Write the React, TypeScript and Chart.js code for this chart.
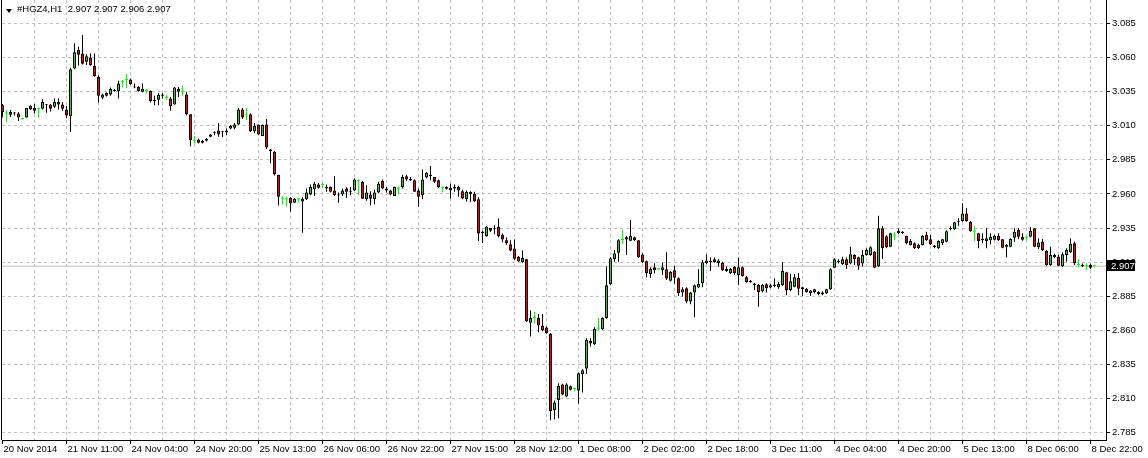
import React, { useEffect, useRef } from 'react';
import { Chart, registerables } from 'chart.js';

Chart.register(...registerables);

const SYMBOL = '#HGZ4,H1';

const opens = [
  3.0250,3.0190,3.0200,3.0195,3.0190,3.0150,3.0160,3.0245,3.0230,3.0225,
  3.0225,3.0255,3.0255,3.0240,3.0255,3.0255,3.0220,3.0170,3.0520,3.0655,
  3.0630,3.0570,3.0600,3.0540,3.0460,3.0305,3.0340,3.0330,3.0355,3.0355,
  3.0420,3.0435,3.0440,3.0385,3.0385,3.0350,3.0355,3.0355,3.0290,3.0290,
  3.0330,3.0305,3.0300,3.0255,3.0370,3.0350,3.0330,3.0185,2.9990,3.0000,
  2.9990,2.9990,3.0020,3.0045,3.0065,3.0058,3.0050,3.0080,3.0085,3.0110,
  3.0220,3.0175,3.0185,3.0060,3.0110,3.0025,3.0110,2.9925,2.9910,2.9740,
  2.9565,2.9560,2.9570,2.9535,2.9560,2.9545,2.9560,2.9595,2.9635,2.9670,
  2.9665,2.9650,2.9650,2.9625,2.9595,2.9595,2.9640,2.9620,2.9625,2.9695,
  2.9690,2.9560,2.9595,2.9560,2.9610,2.9695,2.9640,2.9625,2.9585,2.9640,
  2.9650,2.9730,2.9710,2.9700,2.9625,2.9590,2.9720,2.9740,2.9725,2.9700,
  2.9645,2.9650,2.9625,2.9650,2.9650,2.9620,2.9560,2.9597,2.9600,2.9560,
  2.9323,2.9290,2.9350,2.9348,2.9360,2.9300,2.9260,2.9230,2.9200,2.9140,
  2.9100,2.9120,2.8655,2.8690,2.8690,2.8635,2.8620,2.8575,2.8015,2.8089,
  2.8202,2.8114,2.8190,2.8168,2.8158,2.8277,2.8319,2.8522,2.8497,2.8612,
  2.8607,2.8690,2.8937,2.9123,2.9169,2.9262,2.9282,2.9257,2.9282,2.9260,
  2.9155,2.9106,2.9013,2.9062,2.9047,2.9042,2.9047,2.8964,2.9040,2.8981,
  2.8876,2.8908,2.8810,2.8876,2.8913,2.8944,2.9091,2.9108,2.9120,2.9091,
  2.9096,2.9050,2.9018,2.9064,2.9006,2.9062,2.8988,2.8964,2.8940,2.8932,
  2.8886,2.8937,2.8913,2.8935,2.8915,2.8930,2.9025,2.8896,2.8920,2.8984,
  2.8900,2.8905,2.8871,2.8900,2.8881,2.8876,2.8871,2.8900,2.9059,2.9108,
  2.9086,2.9120,2.9089,2.9152,2.9135,2.9089,2.9152,2.9152,2.9177,2.9067,
  2.9348,2.9289,2.9213,2.9294,2.9311,2.9323,2.9291,2.9225,2.9238,2.9225,
  2.9225,2.9299,2.9267,2.9221,2.9201,2.9238,2.9250,2.9343,2.9340,2.9396,
  2.9401,2.9457,2.9396,2.9323,2.9311,2.9269,2.9255,2.9260,2.9264,2.9291,
  2.9267,2.9225,2.9213,2.9279,2.9335,2.9286,2.9279,2.9286,2.9348,2.9208,
  2.9250,2.9181,2.9079,2.9135,2.9140,2.9069,2.9152,2.9172,2.9238,2.9079,
  2.9079,2.9071,2.9079,2.9070,
];

const highs = [
  3.0260,3.0215,3.0215,3.0200,3.0200,3.0160,3.0230,3.0250,3.0260,3.0230,
  3.0295,3.0260,3.0260,3.0300,3.0300,3.0275,3.0245,3.0525,3.0705,3.0680,
  3.0765,3.0625,3.0630,3.0630,3.0470,3.0335,3.0345,3.0380,3.0370,3.0430,
  3.0435,3.0480,3.0445,3.0410,3.0390,3.0410,3.0370,3.0360,3.0320,3.0340,
  3.0340,3.0330,3.0310,3.0385,3.0385,3.0395,3.0350,3.0185,3.0025,3.0005,
  2.9995,3.0010,3.0040,3.0060,3.0120,3.0060,3.0080,3.0105,3.0120,3.0230,
  3.0230,3.0230,3.0190,3.0120,3.0110,3.0110,3.0150,2.9930,2.9915,2.9740,
  2.9585,2.9580,2.9575,2.9570,2.9570,2.9575,2.9640,2.9670,2.9690,2.9680,
  2.9680,2.9670,2.9655,2.9730,2.9610,2.9640,2.9650,2.9650,2.9715,2.9705,
  2.9695,2.9665,2.9620,2.9630,2.9690,2.9705,2.9650,2.9630,2.9655,2.9655,
  2.9740,2.9740,2.9725,2.9705,2.9640,2.9780,2.9760,2.9805,2.9725,2.9705,
  2.9655,2.9655,2.9677,2.9670,2.9660,2.9630,2.9625,2.9619,2.9615,2.9575,
  2.9330,2.9365,2.9350,2.9370,2.9420,2.9310,2.9280,2.9260,2.9265,2.9145,
  2.9185,2.9125,2.8745,2.8735,2.8720,2.8720,2.8627,2.8580,2.8085,2.8212,
  2.8207,2.8212,2.8194,2.8180,2.8290,2.8314,2.8544,2.8541,2.8622,2.8690,
  2.8695,2.9067,2.9135,2.9189,2.9267,2.9335,2.9291,2.9409,2.9286,2.9262,
  2.9164,2.9111,2.9062,2.9091,2.9054,2.9096,2.9172,2.9035,2.9071,2.8988,
  2.8915,2.8915,2.8881,2.8935,2.9047,2.9115,2.9155,2.9133,2.9133,2.9120,
  2.9103,2.9067,2.9057,2.9071,2.9133,2.9067,2.8998,2.8969,2.8949,2.8940,
  2.8940,2.8944,2.8940,2.8981,2.8954,2.9101,2.9030,2.9013,2.9013,2.9018,
  2.8920,2.8910,2.8896,2.8903,2.8886,2.8886,2.8905,2.9054,2.9128,2.9120,
  2.9140,2.9133,2.9213,2.9157,2.9140,2.9189,2.9201,2.9216,2.9181,2.9440,
  2.9365,2.9299,2.9316,2.9318,2.9348,2.9328,2.9294,2.9269,2.9245,2.9235,
  2.9299,2.9323,2.9299,2.9225,2.9260,2.9269,2.9333,2.9362,2.9396,2.9421,
  2.9531,2.9494,2.9401,2.9365,2.9316,2.9311,2.9348,2.9311,2.9299,2.9311,
  2.9269,2.9233,2.9274,2.9348,2.9348,2.9311,2.9289,2.9355,2.9350,2.9274,
  2.9269,2.9189,2.9213,2.9162,2.9152,2.9172,2.9201,2.9274,2.9250,2.9123,
  2.9089,2.9089,2.9089,2.9070,
];

const lows = [
  3.0160,3.0125,3.0165,3.0175,3.0135,3.0145,3.0160,3.0215,3.0190,3.0160,
  3.0220,3.0195,3.0205,3.0230,3.0220,3.0210,3.0155,3.0055,3.0515,3.0540,
  3.0550,3.0545,3.0540,3.0460,3.0270,3.0295,3.0315,3.0320,3.0350,3.0300,
  3.0380,3.0375,3.0400,3.0375,3.0350,3.0345,3.0335,3.0270,3.0250,3.0250,
  3.0300,3.0290,3.0210,3.0255,3.0310,3.0320,3.0175,2.9950,2.9970,2.9970,
  2.9970,2.9985,3.0015,3.0030,3.0020,3.0015,3.0030,3.0075,3.0075,3.0105,
  3.0150,3.0140,3.0055,3.0045,3.0030,3.0025,2.9930,2.9825,2.9735,2.9515,
  2.9525,2.9505,2.9470,2.9535,2.9535,2.9315,2.9555,2.9590,2.9585,2.9640,
  2.9645,2.9615,2.9610,2.9585,2.9535,2.9585,2.9570,2.9590,2.9620,2.9590,
  2.9565,2.9550,2.9515,2.9525,2.9605,2.9635,2.9610,2.9590,2.9585,2.9595,
  2.9640,2.9695,2.9695,2.9615,2.9505,2.9560,2.9715,2.9700,2.9680,2.9645,
  2.9610,2.9633,2.9565,2.9615,2.9580,2.9560,2.9545,2.9541,2.9540,2.9255,
  2.9240,2.9285,2.9320,2.9305,2.9280,2.9245,2.9225,2.9180,2.9115,2.9100,
  2.9095,2.8660,2.8555,2.8650,2.8585,2.8593,2.8575,2.7940,2.7945,2.7955,
  2.8124,2.8109,2.8158,2.8153,2.8060,2.8143,2.8280,2.8480,2.8492,2.8602,
  2.8602,2.8686,2.8930,2.9103,2.9103,2.9233,2.9152,2.9252,2.9255,2.9130,
  2.9091,2.8988,2.8986,2.9018,2.9042,2.9006,2.8969,2.8957,2.8940,2.8852,
  2.8847,2.8798,2.8791,2.8695,2.8908,2.8915,2.9086,2.9035,2.9096,2.9067,
  2.9035,2.9030,2.9013,2.9006,2.8932,2.8993,2.8949,2.8949,2.8896,2.8773,
  2.8876,2.8876,2.8908,2.8915,2.8905,2.8925,2.8857,2.8886,2.8915,2.8857,
  2.8852,2.8876,2.8852,2.8871,2.8857,2.8857,2.8866,2.8896,2.9054,2.9089,
  2.9079,2.9050,2.9084,2.9079,2.9042,2.9067,2.9147,2.9147,2.9054,2.9064,
  2.9123,2.9201,2.9208,2.9262,2.9306,2.9306,2.9230,2.9221,2.9196,2.9196,
  2.9221,2.9255,2.9225,2.9201,2.9196,2.9225,2.9245,2.9333,2.9335,2.9367,
  2.9396,2.9396,2.9323,2.9255,2.9201,2.9238,2.9201,2.9230,2.9260,2.9255,
  2.9201,2.9133,2.9208,2.9250,2.9269,2.9257,2.9264,2.9282,2.9208,2.9196,
  2.9181,2.9074,2.9074,2.9128,2.9069,2.9064,2.9103,2.9167,2.9079,2.9059,
  2.9064,2.9042,2.9050,2.9060,
];

const closes = [
  3.0200,3.0190,3.0180,3.0190,3.0160,3.0150,3.0230,3.0220,3.0210,3.0225,
  3.0275,3.0250,3.0225,3.0275,3.0275,3.0225,3.0175,3.0515,3.0640,3.0620,
  3.0555,3.0610,3.0545,3.0465,3.0320,3.0330,3.0320,3.0370,3.0365,3.0410,
  3.0420,3.0435,3.0405,3.0380,3.0355,3.0370,3.0355,3.0280,3.0280,3.0325,
  3.0320,3.0305,3.0245,3.0380,3.0350,3.0350,3.0185,2.9995,2.9990,2.9975,
  2.9975,3.0005,3.0035,3.0050,3.0035,3.0053,3.0065,3.0100,3.0110,3.0220,
  3.0160,3.0175,3.0060,3.0100,3.0035,3.0105,2.9940,2.9915,2.9745,2.9580,
  2.9565,2.9560,2.9530,2.9565,2.9560,2.9565,2.9610,2.9650,2.9675,2.9645,
  2.9665,2.9640,2.9615,2.9590,2.9588,2.9625,2.9615,2.9613,2.9705,2.9695,
  2.9565,2.9610,2.9565,2.9610,2.9675,2.9640,2.9625,2.9595,2.9650,2.9640,
  2.9725,2.9705,2.9700,2.9615,2.9580,2.9705,2.9755,2.9732,2.9690,2.9650,
  2.9645,2.9638,2.9645,2.9640,2.9625,2.9567,2.9615,2.9615,2.9545,2.9310,
  2.9313,2.9360,2.9330,2.9340,2.9290,2.9265,2.9240,2.9185,2.9125,2.9105,
  2.9130,2.8665,2.8690,2.8690,2.8635,2.8600,2.8580,2.8005,2.8070,2.8192,
  2.8129,2.8202,2.8163,2.8168,2.8285,2.8307,2.8529,2.8502,2.8610,2.8612,
  2.8690,2.8930,2.9128,2.9164,2.9260,2.9262,2.9265,2.9291,2.9262,2.9135,
  2.9098,2.9018,2.9050,2.9042,2.9047,2.9062,2.8979,2.9028,2.8986,2.8871,
  2.8900,2.8810,2.8876,2.8930,2.8940,2.9098,2.9111,2.9100,2.9101,2.9111,
  2.9040,2.9035,2.9050,2.9018,2.9062,2.8998,2.8954,2.8954,2.8930,2.8881,
  2.8932,2.8908,2.8930,2.8925,2.8940,2.9037,2.8891,2.8959,2.8988,2.8905,
  2.8915,2.8879,2.8891,2.8879,2.8866,2.8866,2.8900,2.9047,2.9120,2.9098,
  2.9120,2.9079,2.9157,2.9123,2.9074,2.9152,2.9189,2.9208,2.9059,2.9348,
  2.9201,2.9208,2.9311,2.9294,2.9330,2.9313,2.9238,2.9255,2.9201,2.9201,
  2.9291,2.9260,2.9230,2.9208,2.9255,2.9267,2.9326,2.9352,2.9392,2.9404,
  2.9457,2.9401,2.9326,2.9323,2.9255,2.9260,2.9274,2.9286,2.9294,2.9260,
  2.9206,2.9213,2.9269,2.9323,2.9286,2.9264,2.9279,2.9328,2.9213,2.9243,
  2.9189,2.9079,2.9152,2.9152,2.9074,2.9157,2.9189,2.9235,2.9091,2.9079,
  2.9069,2.9071,2.9059,2.9070,
];

const xLabelBars = [0, 16, 32, 48, 64, 80, 96, 112, 128, 144, 160, 176, 192, 208, 224, 240, 256, 272];
const xLabelTexts = [
  '20 Nov 2014', '21 Nov 11:00', '24 Nov 04:00', '24 Nov 20:00', '25 Nov 13:00', '26 Nov 06:00',
  '26 Nov 22:00', '27 Nov 15:00', '28 Nov 12:00', '1 Dec 08:00', '2 Dec 02:00', '2 Dec 18:00',
  '3 Dec 11:00', '4 Dec 04:00', '4 Dec 20:00', '5 Dec 13:00', '8 Dec 06:00', '8 Dec 22:00',
];
const xGridStep = 8;
const yTickValues = [2.785, 2.81, 2.835, 2.86, 2.885, 2.91, 2.935, 2.96, 2.985, 3.01, 3.035, 3.06, 3.085];

const X_MIN = -0.125;
const X_MAX = 275.875;
const Y_MIN = 2.7795;
const Y_MAX = 3.10224;

const UP_FILL = '#32CD32';
const DOWN_FILL = '#FF0000';
const DOJI = '#00FF00';
const GRID = '#C0C0C0';
const FONT = { family: '"Liberation Sans", Arial, sans-serif', size: 9.5 };

export default function App() {
  const ref = useRef<HTMLCanvasElement>(null);

  useEffect(() => {
    if (!ref.current) return;
    const n = closes.length;
    const idx = closes.map((_, i) => i);
    const doji = idx.map((i) => opens[i] === closes[i]);
    const lastClose = closes[n - 1];
    const labelMap: Record<number, string> = {};
    xLabelBars.forEach((b, k) => { labelMap[b] = xLabelTexts[k]; });
    const xTickVals: number[] = [];
    for (let v = 0; v <= xLabelBars[xLabelBars.length - 1]; v += xGridStep) xTickVals.push(v);

    const overlay = {
      id: 'mtOverlay',
      afterDraw(chart: any) {
        const { ctx, chartArea, scales } = chart;
        ctx.save();
        ctx.fillStyle = '#000';
        ctx.fillRect(chartArea.left - 1, chartArea.top, 1, chartArea.bottom - chartArea.top);
        const y = Math.round(scales.y.getPixelForValue(lastClose));
        const x0 = chartArea.right + 1;
        ctx.fillRect(x0, y - 6, 28, 11);
        ctx.fillStyle = '#fff';
        ctx.font = `${FONT.size}px ${FONT.family}`;
        ctx.textBaseline = 'middle';
        ctx.textAlign = 'left';
        ctx.fillText(lastClose.toFixed(3), x0 + 4, y);
        ctx.restore();
      },
    };

    const chart = new Chart(ref.current, {
      type: 'bar',
      data: {
        datasets: [
          {
            type: 'bar',
            label: 'body',
            data: idx.map((i) => ({ x: i, y: [Math.min(opens[i], closes[i]), Math.max(opens[i], closes[i])] })) as any,
            backgroundColor: idx.map((i) => (doji[i] ? DOJI : closes[i] > opens[i] ? UP_FILL : DOWN_FILL)),
            borderColor: '#000',
            borderWidth: idx.map((i) => (doji[i] ? 0 : 1)),
            borderSkipped: false,
            barThickness: 3,
            minBarLength: 1,
            grouped: false,
            inflateAmount: 0,
            order: 0,
          } as any,
          {
            type: 'bar',
            label: 'wick',
            data: idx.map((i) => ({ x: i, y: [lows[i], highs[i]] })) as any,
            backgroundColor: idx.map((i) => (doji[i] ? DOJI : '#000')),
            borderWidth: 0,
            barThickness: 1,
            grouped: false,
            inflateAmount: 0,
            order: 1,
          } as any,
          {
            type: 'line',
            label: 'last',
            data: [{ x: X_MIN, y: lastClose }, { x: X_MAX, y: lastClose }] as any,
            borderColor: GRID,
            borderWidth: 1,
            pointRadius: 0,
            order: 2,
          } as any,
        ],
      },
      options: {
        responsive: false,
        animation: false,
        events: [],
        layout: { padding: { left: 2, top: 0, right: 0, bottom: 0 } },
        plugins: { legend: { display: false }, tooltip: { enabled: false }, title: { display: false } },
        scales: {
          x: {
            type: 'linear',
            min: X_MIN,
            max: X_MAX,
            offset: false,
            bounds: 'data',
            afterBuildTicks: (s: any) => { s.ticks = xTickVals.map((v) => ({ value: v })); },
            afterFit: (s: any) => { s.height = 18; s.paddingLeft = 0; s.paddingRight = 0; },
            grid: {
              offset: false,
              color: (c: any) => (c.tick && c.tick.value === 0 ? 'rgba(0,0,0,0)' : GRID),
              tickColor: (c: any) => (c.tick && c.tick.value % 16 === 0 ? '#000' : 'rgba(0,0,0,0)'),
              tickLength: 4,
              lineWidth: 1,
            },
            border: { display: true, color: '#000', width: 1, dash: [3, 3] },
            ticks: {
              autoSkip: false,
              maxRotation: 0,
              minRotation: 0,
              align: 'start',
              labelOffset: 1,
              padding: 0,
              color: '#000',
              font: FONT,
              callback: (v: any) => labelMap[v as number] ?? '',
            },
          } as any,
          y: {
            type: 'linear',
            position: 'right',
            min: Y_MIN,
            max: Y_MAX,
            beginAtZero: false,
            bounds: 'data',
            afterBuildTicks: (s: any) => { s.ticks = yTickValues.map((v) => ({ value: v })); },
            afterFit: (s: any) => { s.width = 42; s.paddingTop = 0; s.paddingBottom = 0; },
            grid: { color: GRID, tickColor: '#000', tickLength: 4, lineWidth: 1 },
            border: { display: true, color: '#000', width: 1, dash: [3, 3] },
            ticks: {
              padding: 2,
              color: '#000',
              font: FONT,
              callback: (v: any) => Number(v).toFixed(3),
            },
          } as any,
        },
      },
      plugins: [overlay],
    });
    return () => chart.destroy();
  }, []);

  const n = closes.length;
  const header = `${SYMBOL}  ${opens[n - 1].toFixed(3)} ${highs[n - 1].toFixed(3)} ${lows[n - 1].toFixed(3)} ${closes[n - 1].toFixed(3)}`;

  return (
    <div style={{ position: 'fixed', left: 0, top: 0, width: 1148, height: 458, background: '#fff', overflow: 'hidden' }}>
      <canvas ref={ref} width={1148} height={458} style={{ display: 'block' }} />
      <div
        style={{
          position: 'absolute', left: 6, top: 9, width: 0, height: 0,
          borderLeft: '3px solid transparent', borderRight: '3px solid transparent', borderTop: '4px solid #000',
        }}
      />
      <div
        style={{
          position: 'absolute', left: 17, top: 4, whiteSpace: 'pre', color: '#000',
          fontFamily: '"Liberation Sans", Arial, sans-serif', fontSize: '9.5px', lineHeight: '10px',
        }}
      >
        {header}
      </div>
    </div>
  );
}
